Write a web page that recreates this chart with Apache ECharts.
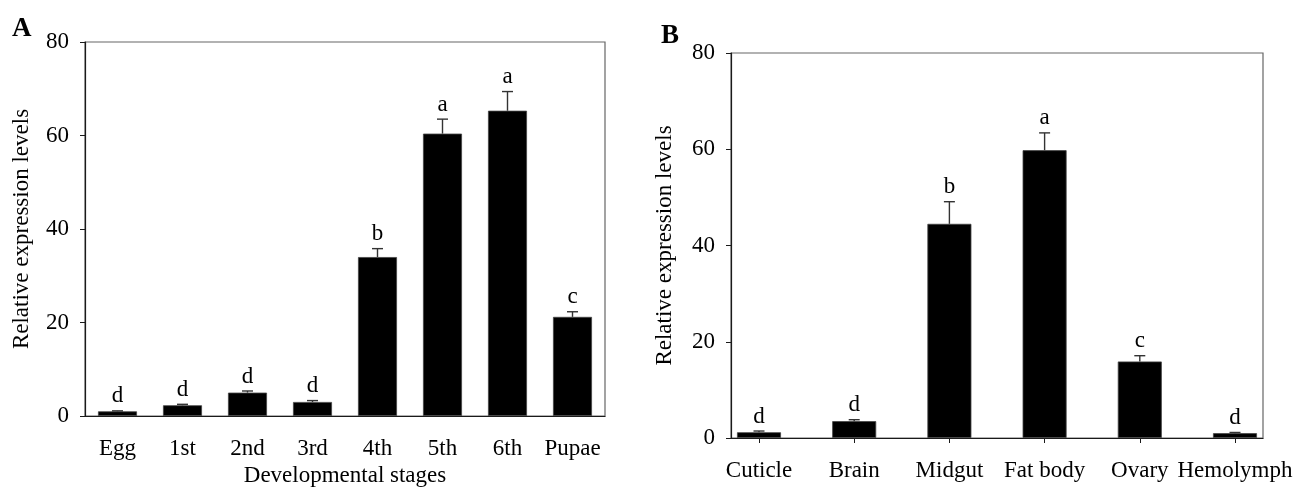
<!DOCTYPE html>
<html>
<head>
<meta charset="utf-8">
<script src="https://cdn.jsdelivr.net/npm/echarts@6/dist/echarts.min.js"></script>
<style>
html,body{margin:0;padding:0;background:#fff;}
#c{width:1296px;height:488px;}
</style>
</head>
<body>
<div id="c"></div>
<script>
// Panel A: developmental stages
var stagesA = ['Egg', '1st', '2nd', '3rd', '4th', '5th', '6th', 'Pupae'];
var valuesA = [1.0, 2.3, 5.0, 3.0, 34.0, 60.4, 65.3, 21.2];
var errorsA = [0.1, 0.2, 0.35, 0.3, 1.8, 3.1, 4.1, 1.1];
var lettersA = ['d', 'd', 'd', 'd', 'b', 'a', 'a', 'c'];

// Panel B: tissues
var tissuesB = ['Cuticle', 'Brain', 'Midgut', 'Fat body', 'Ovary', 'Hemolymph'];
var valuesB = [1.2, 3.5, 44.5, 59.8, 15.9, 1.0];
var errorsB = [0.25, 0.3, 4.6, 3.6, 1.2, 0.15];
var lettersB = ['d', 'd', 'b', 'a', 'c', 'd'];

var yTicks = [0, 20, 40, 60, 80];

var FONT = "'Liberation Serif', 'Times New Roman', serif";
var FS = 23;
var AXIS = '#1a1a1a';
var FRAME = '#666';

function errData(vals, errs) {
  return vals.map(function (v, i) { return [i, v, errs[i]]; });
}

function renderErr(params, api) {
  var i = api.value(0);
  var v = api.value(1);
  var e = api.value(2);
  var base = api.coord([i, v]);
  var top = api.coord([i, v + e]);
  var cap = 5.5;
  var idx = params.dataIndex;
  var lt = params.seriesName === 'errA' ? lettersA[idx] : lettersB[idx];
  return {
    type: 'group',
    children: [
      { type: 'line', shape: { x1: base[0], y1: base[1], x2: top[0], y2: top[1] },
        style: { stroke: '#333', lineWidth: 1.4 } },
      { type: 'line', shape: { x1: top[0] - cap, y1: top[1], x2: top[0] + cap, y2: top[1] },
        style: { stroke: '#333', lineWidth: 1.4 } },
      { type: 'text', x: top[0], y: top[1] - 3,
        style: { text: lt, fill: '#000', font: FS + 'px ' + FONT, align: 'center', verticalAlign: 'bottom' } }
    ]
  };
}

var yAxisCommon = {
  type: 'value', min: 0, max: 80, interval: 20,
  axisLine: { show: true, lineStyle: { color: AXIS, width: 1.2 } },
  axisTick: { show: true, length: 5, lineStyle: { color: AXIS } },
  axisLabel: { color: '#000', fontFamily: FONT, fontSize: FS, margin: 16,
    formatter: function (v) { return yTicks.indexOf(v) >= 0 ? String(v) : ''; } },
  splitLine: { show: false },
  name: 'Relative expression levels',
  nameLocation: 'middle',
  nameTextStyle: { color: '#000', fontFamily: FONT, fontSize: FS }
};

var chart = echarts.init(document.getElementById('c'), null, { renderer: 'canvas' });
chart.setOption({
  backgroundColor: '#fff',
  animation: false,
  grid: [
    { left: 85, top: 42, width: 520, height: 374, outerBoundsMode: 'none', containLabel: false,
      show: true, borderColor: FRAME, borderWidth: 1.2, backgroundColor: 'transparent' },
    { left: 731, top: 53, width: 532, height: 385, outerBoundsMode: 'none', containLabel: false,
      show: true, borderColor: FRAME, borderWidth: 1.2, backgroundColor: 'transparent' },
    { left: 759, top: 53, width: 476, height: 385, outerBoundsMode: 'none', containLabel: false }
  ],
  xAxis: [
    { gridIndex: 0, type: 'category', data: stagesA, boundaryGap: true,
      axisLine: { lineStyle: { color: AXIS, width: 1.2 } },
      axisTick: { alignWithLabel: true, length: 5, lineStyle: { color: AXIS } },
      axisLabel: { interval: 0, hideOverlap: false, color: '#000', fontFamily: FONT, fontSize: FS, margin: 21 },
      name: 'Developmental stages', nameLocation: 'middle', nameGap: 46,
      nameTextStyle: { color: '#000', fontFamily: FONT, fontSize: FS } },
    { gridIndex: 1, type: 'value', min: 0, max: 1, show: true,
      axisLine: { show: true, lineStyle: { color: AXIS, width: 1.2 } },
      axisTick: { show: false }, axisLabel: { show: false }, splitLine: { show: false } },
    { gridIndex: 2, type: 'category', data: tissuesB, boundaryGap: false,
      axisLine: { show: false },
      axisTick: { show: true, interval: 0, length: 5, lineStyle: { color: AXIS } },
      axisLabel: { interval: 0, hideOverlap: false, color: '#000', fontFamily: FONT, fontSize: FS, margin: 21 } }
  ],
  yAxis: [
    Object.assign({}, yAxisCommon, { gridIndex: 0, nameGap: 52 }),
    { gridIndex: 1, type: 'value', min: 0, max: 1, show: false },
    Object.assign({}, yAxisCommon, { gridIndex: 2, offset: 28, nameGap: 55 })
  ],
  series: [
    { type: 'bar', xAxisIndex: 0, yAxisIndex: 0, data: valuesA, barWidth: 39,
      itemStyle: { color: '#000', borderColor: '#444', borderWidth: 0.8 } },
    { type: 'custom', name: 'errA', xAxisIndex: 0, yAxisIndex: 0,
      data: errData(valuesA, errorsA), renderItem: renderErr, z: 5 },
    { type: 'bar', xAxisIndex: 2, yAxisIndex: 2, data: valuesB, barWidth: 44,
      itemStyle: { color: '#000', borderColor: '#444', borderWidth: 0.8 } },
    { type: 'custom', name: 'errB', xAxisIndex: 2, yAxisIndex: 2,
      data: errData(valuesB, errorsB), renderItem: renderErr, z: 5 }
  ],
  graphic: [
    { type: 'text', left: 12, top: 16,
      style: { text: 'A', font: 'bold 27px ' + FONT, fill: '#000' } },
    { type: 'text', left: 661, top: 23,
      style: { text: 'B', font: 'bold 27px ' + FONT, fill: '#000' } }
  ]
});
</script>
</body>
</html>
